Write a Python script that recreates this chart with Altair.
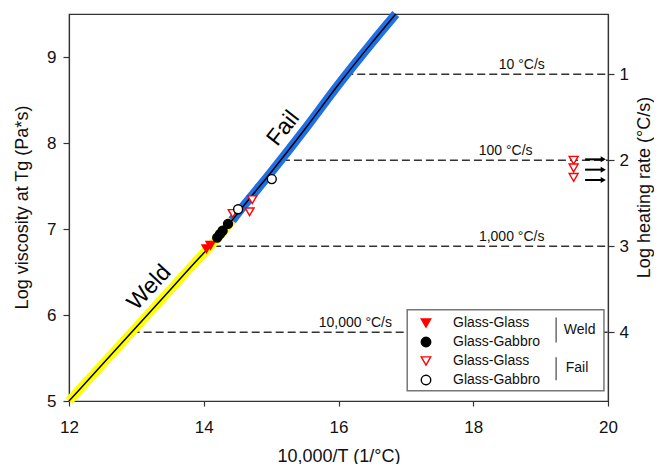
import altair as alt
import pandas as pd

# --- data ---
curve_x = [12.0, 12.5, 13.0, 13.5, 14.0, 14.1, 14.42, 14.5, 15.0, 15.5, 16.0, 16.5, 16.85]
curve_y = [5.0, 5.43, 5.86, 6.29, 6.72, 6.8, 7.10, 7.18, 7.66, 8.16, 8.68, 9.17, 9.5]
weld_limit = 14.42

rate_log = [1, 2, 3, 4]
rate_start = [16.1, 15.16, 14.14, 12.93]
rate_end = [20, 20, 20, 20]
rate_text = ["10 °C/s", "100 °C/s", "1,000 °C/s", "10,000 °C/s"]
rate_text_x = [18.72, 18.48, 18.57, 16.25]

groups = ["Weld|Glass-Glass", "Weld|Glass-Gabbro", "Fail|Glass-Glass", "Fail|Glass-Gabbro"]
pt_group = (["Weld|Glass-Glass"] * 2 + ["Weld|Glass-Gabbro"] * 4
            + ["Fail|Glass-Glass"] * 6 + ["Fail|Glass-Gabbro"] * 2)
pt_x = [14.04, 14.1, 14.2, 14.24, 14.28, 14.36,
        14.43, 14.68, 14.72, 19.49, 19.49, 19.49, 14.51, 15.01]
pt_y = [6.77, 6.81, 6.9, 6.94, 6.98, 7.06,
        7.18, 7.2, 7.34, 7.8, 7.71, 7.6, 7.23, 7.58]

arrow_x0 = [19.66, 19.66, 19.66]
arrow_x1 = [19.93, 19.93, 19.93]
arrow_y = [7.81, 7.69, 7.57]

curve_labels = ["Weld", "Fail"]
curve_label_x = [13.19, 15.18]
curve_label_y = [6.32, 8.17]
curve_label_angle = [313, 308]

box_x = [17.02]
box_x2 = [19.94]
box_y = [6.06]
box_y2 = [5.12]
group_names = ["Weld", "Fail"]
group_bar_x = [19.23, 19.23]
group_bar_y = [5.97, 5.51]
group_bar_y2 = [5.68, 5.24]
group_text_x = [19.58, 19.54]
group_text_y = [5.82, 5.38]

FONT = "Liberation Sans"

curve = pd.DataFrame({"x": curve_x, "y": curve_y})
weld_df = curve[curve.x <= weld_limit]
fail_df = curve[curve.x >= weld_limit]
rates = pd.DataFrame({"r": rate_log, "x0": rate_start, "x1": rate_end,
                      "t": rate_text, "tx": rate_text_x})
pts = pd.DataFrame({"g": pt_group, "x": pt_x, "y": pt_y})
arrows = pd.DataFrame({"x0": arrow_x0, "x1": arrow_x1, "y": arrow_y})
clabels = pd.DataFrame({"t": curve_labels, "x": curve_label_x, "y": curve_label_y,
                        "a": curve_label_angle})
box = pd.DataFrame({"x": box_x, "x2": box_x2, "y": box_y, "y2": box_y2})
gdf = pd.DataFrame({"t": group_names, "bx": group_bar_x, "by": group_bar_y,
                    "by2": group_bar_y2, "tx": group_text_x, "ty": group_text_y})

xs = alt.Scale(domain=[12, 20], nice=False, zero=False)
ys = alt.Scale(domain=[5, 9.5], nice=False, zero=False)
rs = alt.Scale(domain=[0.3, 4.8], nice=False, zero=False, reverse=True)

x_axis = alt.Axis(values=[12, 14, 16, 18, 20], title="10,000/T (1/°C)", tickSize=5,
                  labelPadding=13, labelFlush=False, titleY=55, titleBaseline="middle",
                  grid=False)
y_axis = alt.Axis(orient="left", values=[5, 6, 7, 8, 9], title="Log viscosity at Tg (Pa*s)",
                  tickSize=6, labelPadding=7, labelFlush=False, titleX=-47, titleY=193,
                  titleAngle=270, titleBaseline="middle", titleAlign="center", grid=False)
r_axis = alt.Axis(orient="right", values=rate_log, title="Log heating rate (°C/s)",
                  tickSize=6, labelPadding=5, labelFlush=False, titleX=36, titleY=173,
                  titleAngle=270, titleBaseline="middle", titleAlign="center", grid=False)

X = lambda f: alt.X(f, type="quantitative", scale=xs, axis=x_axis)
Y = lambda f: alt.Y(f, type="quantitative", scale=ys, axis=y_axis)
R = lambda f: alt.Y(f, type="quantitative", scale=rs, axis=r_axis)

# right-axis group: dashed heating-rate lines
dash = alt.Chart(rates).mark_rule(color="#333", strokeWidth=1.6, strokeDash=[8, 4]).encode(
    x=X("x0"), x2="x1", y=R("r"))
dash_txt = alt.Chart(rates).mark_text(font=FONT, fontSize=14, baseline="bottom", dy=-2,
                                      color="#111").encode(x=X("tx"), y=R("r"), text="t")
right_group = alt.layer(dash, dash_txt)

# left-axis group
yellow = alt.Chart(weld_df).mark_line(color="#ffff00", strokeWidth=9, strokeCap="butt",
                                      interpolate="monotone").encode(x=X("x"), y=Y("y"))
blue = alt.Chart(fail_df).mark_line(color="#1f70e6", strokeWidth=9, strokeCap="butt",
                                    interpolate="monotone").encode(x=X("x"), y=Y("y"))
black = alt.Chart(curve).mark_line(color="#000", strokeWidth=1.5,
                                   interpolate="monotone").encode(x=X("x"), y=Y("y"))
clab = alt.Chart(clabels).mark_text(font=FONT, fontSize=23, color="#000").encode(
    x=X("x"), y=Y("y"), text="t", angle=alt.Angle("a:Q", scale=None))
boxm = alt.Chart(box).mark_rect(fill="white", stroke="#777", strokeWidth=1.5).encode(
    x=X("x"), x2="x2", y=Y("y"), y2="y2")
gbar = alt.Chart(gdf).mark_rule(color="#555", strokeWidth=1.3).encode(
    x=X("bx"), y=Y("by"), y2="by2")
gtxt = alt.Chart(gdf).mark_text(font=FONT, fontSize=14, color="#111").encode(
    x=X("tx"), y=Y("ty"), text="t")
arr = alt.Chart(arrows).mark_rule(color="#000", strokeWidth=2).encode(
    x=X("x0"), x2="x1", y=Y("y"))
arrh = alt.Chart(arrows).mark_point(shape="triangle-right", filled=True, color="#000",
                                    size=36, opacity=1).encode(x=X("x1"), y=Y("y"))

leg = alt.Legend(title=None, orient="none", legendX=350, legendY=302,
                 labelExpr="split(datum.label, '|')[1]", labelFont=FONT, labelFontSize=14,
                 labelColor="#111", symbolSize=90, symbolStrokeWidth=1.4, rowPadding=4,
                 labelOffset=20, padding=0)
points = alt.Chart(pts).mark_point(size=80, opacity=1, strokeWidth=1.4).encode(
    x=X("x"), y=Y("y"),
    shape=alt.Shape("g:N", scale=alt.Scale(domain=groups,
                    range=["triangle-down", "circle", "triangle-down", "circle"]), legend=leg),
    fill=alt.Fill("g:N", scale=alt.Scale(domain=groups,
                  range=["#ff0000", "#000000", "#ffffff", "#ffffff"]), legend=leg),
    stroke=alt.Stroke("g:N", scale=alt.Scale(domain=groups,
                      range=["#ff0000", "#000000", "#ff0000", "#000000"]), legend=leg),
)
left_group = alt.layer(yellow, blue, black, clab, boxm, gbar, gtxt, arr, arrh, points)

chart = alt.layer(right_group, left_group).resolve_scale(y="independent").properties(
    width=539, height=387,
    autosize=alt.AutoSizeParams(type="none"),
    padding={"left": 61, "top": 6, "right": 46, "bottom": 63},
).configure_view(stroke="#333", strokeWidth=1.2).configure_axis(
    labelFont=FONT, titleFont=FONT, labelFontSize=17, titleFontSize=18,
    titleFontWeight="normal", labelColor="#111", titleColor="#111",
    domainColor="#333", tickColor="#333", domainWidth=1.2, tickWidth=1.2,
)

chart.save("out.html", embed_options={"renderer": "svg", "actions": False})
